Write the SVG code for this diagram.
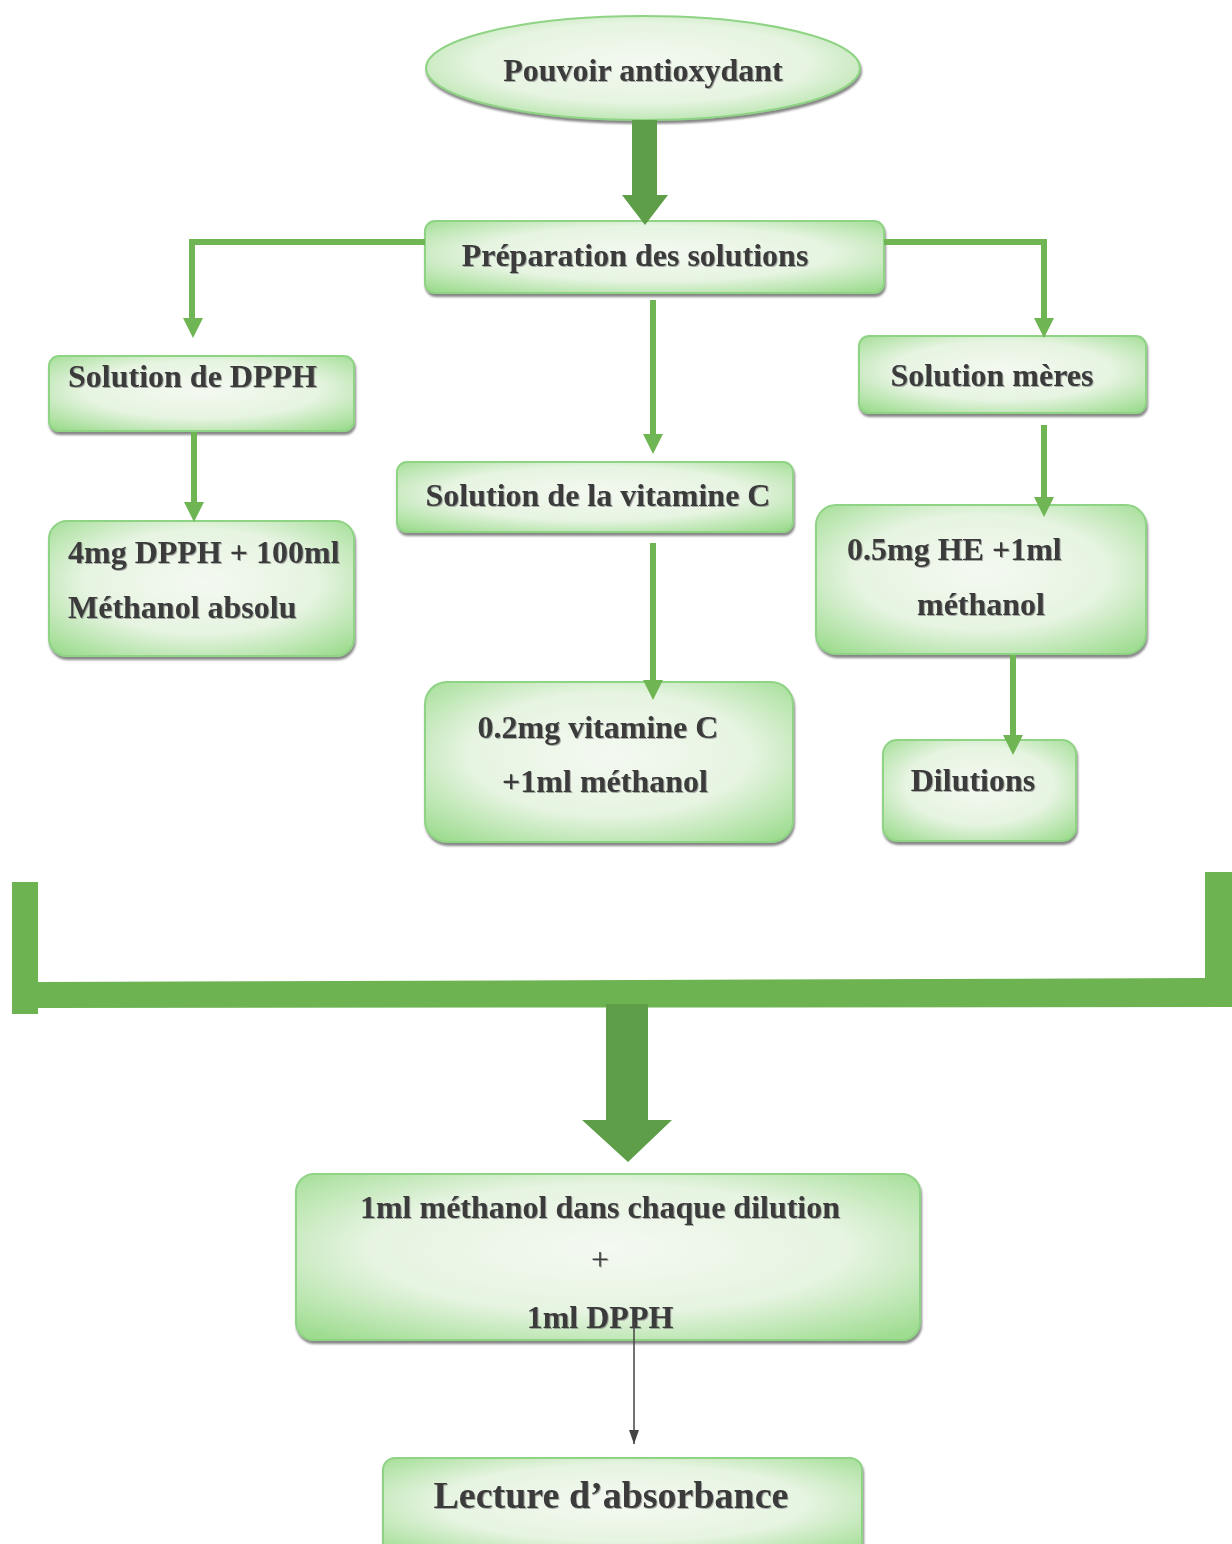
<svg xmlns="http://www.w3.org/2000/svg" width="1232" height="1544" viewBox="0 0 1232 1544">
<defs>
<radialGradient id="g" cx="50%" cy="45%" r="70%">
<stop offset="0" stop-color="#f4f9f1"/>
<stop offset="0.55" stop-color="#e6f4e1"/>
<stop offset="1" stop-color="#9edc90"/>
</radialGradient>
<filter id="sh" x="-5%" y="-5%" width="110%" height="120%">
<feDropShadow dx="1" dy="3" stdDeviation="1" flood-color="#555" flood-opacity="0.7"/>
</filter>
<filter id="ts" x="-5%" y="-5%" width="110%" height="120%">
<feDropShadow dx="1" dy="1" stdDeviation="0.6" flood-color="#777" flood-opacity="0.6"/>
</filter>
<marker id="bk" viewBox="0 0 10 14" refX="5" refY="14" markerWidth="10" markerHeight="14" orient="0" markerUnits="userSpaceOnUse">
<path d="M0,0 L10,0 L5,14 Z" fill="#444"/>
</marker>
</defs>
<style>
.box{fill:url(#g);stroke:#8fd385;stroke-width:2;filter:url(#sh)}
.t{font-family:"Liberation Serif","Times New Roman",serif;font-weight:bold;font-size:32px;fill:#3a3a3a;filter:url(#ts)}
.big-t{font-size:38px}
.plain{font-weight:normal}
.c{stroke:#6fb553;stroke-width:6;fill:none}
.ar{fill:#6fb553}
.big{fill:#5f9e48}
</style>
<rect width="1232" height="1544" fill="#fff"/>
<g id="n-pouvoir">
<ellipse class="box" cx="643" cy="68" rx="217" ry="52"/>
<text class="t" x="643" y="81" text-anchor="middle">Pouvoir antioxydant</text>
</g>
<g id="n-preparation">
<rect class="box" x="425" y="221" width="459" height="72" rx="10"/>
<text class="t" x="635" y="266" text-anchor="middle">Préparation des solutions</text>
</g>
<g id="n-dpph">
<rect class="box" x="49" y="356" width="305" height="75" rx="10"/>
<text class="t" x="68" y="387">Solution de DPPH</text>
</g>
<g id="n-dpph-mix">
<rect class="box" x="49" y="521" width="305" height="135" rx="18"/>
<text class="t" x="68" y="563">4mg DPPH + 100ml</text>
<text class="t" x="68" y="618">Méthanol absolu</text>
</g>
<g id="n-vitc">
<rect class="box" x="397" y="462" width="396" height="70" rx="10"/>
<text class="t" x="598" y="506" text-anchor="middle">Solution de la vitamine C</text>
</g>
<g id="n-vitc-mix">
<rect class="box" x="425" y="682" width="368" height="160" rx="22"/>
<text class="t" x="598" y="738" text-anchor="middle">0.2mg vitamine C</text>
<text class="t" x="605" y="792" text-anchor="middle">+1ml méthanol</text>
</g>
<g id="n-meres">
<rect class="box" x="859" y="336" width="287" height="77" rx="10"/>
<text class="t" x="992" y="386" text-anchor="middle">Solution mères</text>
</g>
<g id="n-he">
<rect class="box" x="816" y="505" width="330" height="149" rx="20"/>
<text class="t" x="847" y="560">0.5mg HE +1ml</text>
<text class="t" x="981" y="615" text-anchor="middle">méthanol</text>
</g>
<g id="n-dilutions">
<rect class="box" x="883" y="740" width="193" height="101" rx="14"/>
<text class="t" x="973" y="791" text-anchor="middle">Dilutions</text>
</g>
<g id="n-mix">
<rect class="box" x="296" y="1174" width="624" height="166" rx="18"/>
<text class="t" x="600" y="1218" text-anchor="middle">1ml méthanol dans chaque dilution</text>
<text class="t plain" x="600" y="1270" text-anchor="middle">+</text>
<text class="t" x="600" y="1328" text-anchor="middle">1ml DPPH</text>
</g>
<g id="n-lecture">
<rect class="box" x="383" y="1458" width="479" height="100" rx="12"/>
<text class="t big-t" x="611" y="1508" text-anchor="middle">Lecture d’absorbance</text>
</g>
<g id="connectors">
<polygon class="big" points="632,120 657,120 657,195 668,195 645,225 622,195 632,195"/>
<polyline class="c" points="425,242 192,242 192,322"/>
<polygon class="ar" points="183,318 203,318 193,338"/>
<polyline class="c" points="884,242 1044,242 1044,322"/>
<polygon class="ar" points="1034,318 1054,318 1044,338"/>
<line class="c" x1="653" y1="300" x2="653" y2="438"/>
<polygon class="ar" points="643,434 663,434 653,454"/>
<line class="c" x1="194" y1="432" x2="194" y2="506"/>
<polygon class="ar" points="184,502 204,502 194,522"/>
<line class="c" x1="653" y1="543" x2="653" y2="683"/>
<polygon class="ar" points="643,680 663,680 653,700"/>
<line class="c" x1="1044" y1="425" x2="1044" y2="500"/>
<polygon class="ar" points="1034,497 1054,497 1044,517"/>
<line class="c" x1="1013" y1="655" x2="1013" y2="738"/>
<polygon class="ar" points="1003,735 1023,735 1013,755"/>
<polygon fill="#6db352" points="12,882 38,882 38,982 1205,978 1205,872 1232,872 1232,1007 38,1008 38,1014 12,1014"/>
<polygon class="big" points="606,1004 648,1004 648,1120 672,1120 628,1162 582,1120 606,1120"/>
<line x1="634" y1="1322" x2="634" y2="1444" stroke="#444" stroke-width="1.5" marker-end="url(#bk)"/>
</g>
</svg>
